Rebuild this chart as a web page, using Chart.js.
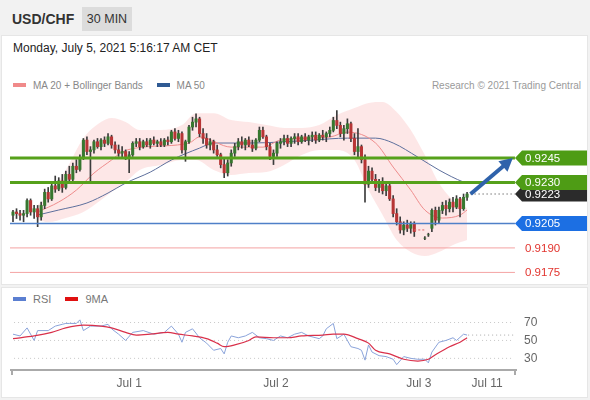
<!DOCTYPE html>
<html>
<head>
<meta charset="utf-8">
<script src="https://cdn.jsdelivr.net/npm/chart.js@4.4.0/dist/chart.umd.min.js"></script>
<style>
  body { margin: 0; width: 590px; height: 400px; background: #f2f2f2; position: relative; overflow: hidden;
         font-family: "Liberation Sans", Arial, sans-serif; }
  .abs { position: absolute; white-space: nowrap; }
  .panel { position: absolute; background: #fff; border: 1px solid #e6e6e6; box-sizing: border-box; }
  .key { display: inline-block; width: 13px; height: 4px; vertical-align: middle; margin-right: 7px; position: relative; top: -1px; }
</style>
</head>
<body>
<div class="panel" style="left:1px; top:35px; width:587px; height:250px;"></div>
<div class="panel" style="left:1px; top:287px; width:587px; height:111px;"></div>

<div class="abs" style="left:12px; top:11px; font-size:14px; font-weight:bold; color:#333;">USD/CHF</div>
<div class="abs" style="left:82px; top:7px; width:50px; height:24px; line-height:24px; background:#dcdcdc; text-align:center; font-size:12.5px; color:#333;">30 MIN</div>
<div class="abs" style="left:13px; top:41px; font-size:12px; color:#222;">Monday, July 5, 2021 5:16:17 AM CET</div>

<div class="abs" style="left:13px; top:80px; font-size:10px; color:#888;">
  <span class="key" style="background:#f08a8a;"></span>MA 20 + Bollinger Bands
  <span class="key" style="background:#2f5a93; margin-left:11px;"></span>MA 50
</div>
<div class="abs" style="right:9px; top:80px; font-size:10px; color:#9a9a9a;">Research © 2021 Trading Central</div>

<div class="abs" style="left:13px; top:293px; font-size:11px; color:#777;">
  <span class="key" style="background:#5b7fd1;"></span>RSI
  <span class="key" style="background:#e01010; margin-left:11px;"></span>9MA
</div>

<canvas id="price" class="abs" width="590" height="190" style="left:0; top:95px;"></canvas>
<canvas id="rsi" class="abs" width="590" height="110" style="left:0; top:287px;"></canvas>

<script>
// USD/CHF 30 min candles, one per slot (null = no trading)
const opens = [0.9210,0.9212,0.9211,0.9210,0.9211,0.9219,0.9212,0.9214,0.9209,0.9216,
  0.9224,0.9220,0.9228,0.9226,0.9231,0.9227,0.9235,0.9232,0.9240,0.9238,
  0.9245,0.9256,0.9249,0.9250,0.9255,0.9252,0.9256,0.9254,0.9258,0.9253,
  0.9250,0.9248,0.9249,0.9245,0.9247,0.9254,0.9255,0.9252,0.9255,0.9253,
  0.9256,0.9254,0.9255,0.9253,0.9256,0.9255,0.9261,0.9257,0.9260,0.9250,
  0.9255,0.9264,0.9267,0.9269,0.9260,0.9257,0.9253,0.9255,0.9250,0.9247,
  0.9241,0.9236,0.9242,0.9248,0.9252,0.9255,0.9253,0.9256,0.9253,0.9251,
  0.9256,0.9262,0.9258,0.9252,0.9246,0.9248,0.9254,0.9255,0.9257,0.9254,
  0.9257,0.9258,0.9255,0.9258,0.9256,0.9258,0.9259,0.9256,0.9259,0.9258,
  0.9260,0.9262,0.9268,0.9265,0.9260,0.9263,0.9266,0.9257,0.9249,0.9252,
  0.9244,0.9229,0.9237,0.9232,0.9227,0.9230,0.9225,0.9228,0.9220,0.9211,
  0.9206,0.9201,0.9204,0.9202,0.9205,null,null,0.9196,0.9198,0.9202,
  0.9213,0.9207,0.9213,0.9216,0.9214,0.9218,0.9215,0.9220,0.9214,0.9221];
const highs = [0.9213,0.9214,0.9213,0.9213,0.9220,0.9220,0.9216,0.9216,0.9218,0.9226,
  0.9227,0.9230,0.9234,0.9233,0.9235,0.9237,0.9240,0.9242,0.9244,0.9247,
  0.9257,0.9258,0.9252,0.9256,0.9257,0.9257,0.9258,0.9260,0.9259,0.9255,
  0.9253,0.9252,0.9250,0.9249,0.9255,0.9257,0.9257,0.9256,0.9257,0.9257,
  0.9258,0.9256,0.9257,0.9257,0.9258,0.9262,0.9263,0.9262,0.9261,0.9256,
  0.9265,0.9270,0.9272,0.9270,0.9263,0.9260,0.9257,0.9256,0.9253,0.9248,
  0.9245,0.9244,0.9250,0.9254,0.9257,0.9258,0.9257,0.9258,0.9256,0.9257,
  0.9264,0.9264,0.9259,0.9254,0.9250,0.9255,0.9257,0.9259,0.9259,0.9258,
  0.9260,0.9260,0.9259,0.9260,0.9259,0.9261,0.9261,0.9260,0.9262,0.9261,
  0.9264,0.9270,0.9274,0.9267,0.9265,0.9269,0.9267,0.9260,0.9263,0.9253,
  0.9247,0.9240,0.9239,0.9235,0.9232,0.9233,0.9230,0.9229,0.9222,0.9214,
  0.9209,0.9206,0.9207,0.9206,0.9206,null,null,0.9197,0.9199,0.9214,
  0.9215,0.9215,0.9218,0.9219,0.9220,0.9221,0.9222,0.9221,0.9223,0.9224];
const lows = [0.9206,0.9208,0.9207,0.9206,0.9209,0.9210,0.9208,0.9203,0.9207,0.9214,
  0.9218,0.9219,0.9224,0.9225,0.9224,0.9226,0.9230,0.9231,0.9236,0.9237,
  0.9244,0.9247,0.9231,0.9248,0.9251,0.9250,0.9252,0.9253,0.9251,0.9248,
  0.9246,0.9245,0.9244,0.9236,0.9246,0.9252,0.9250,0.9251,0.9252,0.9251,
  0.9253,0.9252,0.9252,0.9252,0.9253,0.9254,0.9256,0.9255,0.9248,0.9243,
  0.9254,0.9262,0.9264,0.9258,0.9254,0.9251,0.9250,0.9248,0.9246,0.9239,
  0.9233,0.9234,0.9240,0.9246,0.9250,0.9251,0.9250,0.9252,0.9249,0.9250,
  0.9255,0.9257,0.9250,0.9244,0.9241,0.9246,0.9251,0.9253,0.9252,0.9252,
  0.9254,0.9253,0.9254,0.9255,0.9253,0.9255,0.9254,0.9255,0.9256,0.9255,
  0.9258,0.9261,0.9263,0.9258,0.9256,0.9260,0.9255,0.9247,0.9245,0.9242,
  0.9218,0.9227,0.9230,0.9225,0.9224,0.9223,0.9222,0.9219,0.9209,0.9204,
  0.9199,0.9198,0.9200,0.9199,0.9197,null,null,0.9195,0.9197,0.9200,
  0.9204,0.9205,0.9211,0.9210,0.9212,0.9212,0.9214,0.9209,0.9213,0.9219];
const closes = [0.9212,0.9211,0.9210,0.9211,0.9219,0.9212,0.9214,0.9209,0.9216,0.9224,
  0.9220,0.9228,0.9226,0.9231,0.9227,0.9235,0.9232,0.9240,0.9238,0.9245,
  0.9256,0.9249,0.9250,0.9255,0.9252,0.9256,0.9254,0.9258,0.9253,0.9250,
  0.9248,0.9249,0.9245,0.9247,0.9254,0.9255,0.9252,0.9255,0.9253,0.9256,
  0.9254,0.9255,0.9253,0.9256,0.9255,0.9261,0.9257,0.9260,0.9250,0.9255,
  0.9264,0.9267,0.9269,0.9260,0.9257,0.9253,0.9255,0.9250,0.9247,0.9241,
  0.9236,0.9242,0.9248,0.9252,0.9255,0.9253,0.9256,0.9253,0.9251,0.9256,
  0.9262,0.9258,0.9252,0.9246,0.9248,0.9254,0.9255,0.9257,0.9254,0.9257,
  0.9258,0.9255,0.9258,0.9256,0.9258,0.9259,0.9256,0.9259,0.9258,0.9260,
  0.9262,0.9268,0.9265,0.9260,0.9263,0.9266,0.9257,0.9249,0.9252,0.9244,
  0.9229,0.9237,0.9232,0.9227,0.9230,0.9225,0.9228,0.9220,0.9211,0.9206,
  0.9201,0.9204,0.9202,0.9205,0.9200,null,null,0.9196,0.9198,0.9213,
  0.9207,0.9213,0.9216,0.9214,0.9218,0.9215,0.9220,0.9214,0.9221,0.9223];

// indicators, read at a few candle slots
const ma20Idx = [7,13,18,23,28,31,37,50,53,62,71,76,90,95,103,108,113,117,122,127,129];
const ma20Val = [0.92120,0.92181,0.92254,0.92358,0.92438,0.92487,0.92517,0.92542,0.92579,0.92517,
  0.92517,0.92560,0.92579,0.92609,0.92542,0.92395,0.92254,0.92132,0.92083,0.92101,0.92132];
const ma50Idx = [7,13,21,27,32,39,45,53,57,67,76,85,95,103,108,115,121,128,129];
const ma50Val = [0.92101,0.92132,0.92175,0.92236,0.92297,0.92364,0.92438,0.92511,0.92542,0.92542,
  0.92548,0.92560,0.92572,0.92572,0.92542,0.92456,0.92377,0.92303,0.92297];
const bandIdx = [7,10,15,20,25,28,32,36,42,48,52,57,62,67,72,77,82,87,92,97,101,105,109,113,117,121,125,129];
const bandUpper = [0.92162,0.92224,0.92377,0.92572,0.92670,0.92695,0.92670,0.92621,0.92621,0.92652,
  0.92725,0.92725,0.92683,0.92670,0.92652,0.92634,0.92634,0.92652,0.92713,0.92756,
  0.92787,0.92793,0.92732,0.92621,0.92468,0.92297,0.92193,0.92144];
const bandLower = [0.92071,0.92058,0.92083,0.92120,0.92193,0.92242,0.92303,0.92377,0.92407,0.92438,
  0.92438,0.92377,0.92346,0.92358,0.92364,0.92407,0.92468,0.92499,0.92499,0.92438,
  0.92254,0.92101,0.91948,0.91875,0.91850,0.91875,0.91918,0.91948];

// key levels
const resistances = [0.9245, 0.9230];
const pivot = 0.9205;
const supports = [0.9190, 0.9175];
const lastPrice = 0.9223;
const gapIdx = [114, 117];
const gapPrice = 0.9201;

// RSI panel
const rsiIdx = [0,2,4,6,7,10,12,14,15,16,18,19,20,22,25,27,28,30,32,34,37,40,43,45,47,48,49,51,53,55,
  57,59,60,61,62,64,66,68,70,72,74,76,78,80,82,84,87,88,89,91,92,94,96,98,99,100,101,102,104,106,
  108,109,111,113,115,117,118,119,121,123,125,126,128,129];
const rsiVal = [57,55,64,50,61,61,66,68,69,69,69,73,61,66,66,68,63,57,50,59,61,57,59,66,57,48,59,63,53,47,
  39,41,35,48,55,53,55,59,53,52,50,55,53,57,59,55,52,55,63,69,52,57,43,41,39,28,45,37,33,32,
  29,23,32,30,29,29,25,37,48,50,53,50,57,56];
const ma9Idx = [0,6,11,15,20,25,28,32,35,39,44,47,51,55,58,60,63,67,69,74,78,82,88,91,94,98,101,103,107,111,115,118,120,124,127,129];
const ma9Val = [52,55,59,64,67,66,64,59,56,57,59,57,55,52,47,43,45,50,54,53,53,55,56,57,57,52,47,39,35,29,27,29,34,43,48,53];
const rsiLevels = [30, 50, 70];
const rsiLast = 56;
const tickPos = [33, 74.7, 115.3, 134.7];
const tickLabels = ["Jul 1", "Jul 2", "Jul 3", "Jul 11"];

const FONT = "Liberation Sans";
const UP = "#37772f", DOWN = "#b73535", WICK = "#3c3c3c";
const GREEN = "#56a11b", BLUE = "#4f80c8", PINK = "#f4a3a3";

const pts = (xs, ys) => xs.map((x, k) => ({ x, y: ys[k] }));
const hline = (from, to, v) => [{ x: from, y: v }, { x: to, y: v }];

// build candle pieces
const wickData = [], bodyData = [], bodyColors = [];
closes.forEach((c, i) => {
  if (c === null) return;
  wickData.push({ x: i, y: [lows[i], highs[i]] });
  bodyData.push({ x: i, y: [opens[i], c] });
  bodyColors.push(c >= opens[i] ? UP : DOWN);
});

// level tags and trend arrow, placed with the chart scales
const tags = {
  id: "tags",
  afterDatasetsDraw(chart) {
    const { ctx, scales: { x, y } } = chart;
    ctx.save();
    // arrow
    const x0 = x.getPixelForValue(130), y0 = y.getPixelForValue(lastPrice);
    const x1 = x.getPixelForValue(142), y1 = y.getPixelForValue(resistances[0]);
    const ang = Math.atan2(y1 - y0, x1 - x0);
    ctx.strokeStyle = ctx.fillStyle = "#2f62ab";
    ctx.lineWidth = 4;
    ctx.beginPath();
    ctx.moveTo(x0, y0);
    ctx.lineTo(x1 - 10 * Math.cos(ang), y1 - 10 * Math.sin(ang));
    ctx.stroke();
    ctx.beginPath();
    ctx.moveTo(x1, y1);
    ctx.lineTo(x1 - 13 * Math.cos(ang) + 7 * Math.sin(ang), y1 - 13 * Math.sin(ang) - 7 * Math.cos(ang));
    ctx.lineTo(x1 - 13 * Math.cos(ang) - 7 * Math.sin(ang), y1 - 13 * Math.sin(ang) + 7 * Math.cos(ang));
    ctx.closePath();
    ctx.fill();

    ctx.font = "11.5px " + FONT;
    ctx.textBaseline = "middle";
    const box = (v, fill) => {
      const p = y.getPixelForValue(v);
      ctx.fillStyle = fill;
      ctx.beginPath();
      ctx.moveTo(515, p);
      ctx.lineTo(522, p - 7.5);
      ctx.lineTo(587, p - 7.5);
      ctx.lineTo(587, p + 7.5);
      ctx.lineTo(522, p + 7.5);
      ctx.closePath();
      ctx.fill();
      ctx.fillStyle = "#fff";
      ctx.fillText(v.toFixed(4), 525, p + 0.5);
    };
    box(lastPrice, "#2b2b2b");
    resistances.forEach(v => box(v, "#4e9c15"));
    box(pivot, "#1c6fe3");
    ctx.fillStyle = "#e2342e";
    supports.forEach(v => ctx.fillText(v.toFixed(4), 525, y.getPixelForValue(v) + 0.5));
    ctx.restore();
  }
};

const lineBase = { type: "line", pointRadius: 0, fill: false };

new Chart(document.getElementById("price"), {
  type: "bar",
  data: {
    datasets: [
      { ...lineBase, data: pts(bandIdx, bandUpper), borderWidth: 0, borderColor: "rgba(0,0,0,0)",
        cubicInterpolationMode: "monotone", order: 9 },
      { ...lineBase, data: pts(bandIdx, bandLower), borderWidth: 0, borderColor: "rgba(0,0,0,0)",
        fill: "-1", backgroundColor: "rgba(245,155,155,0.24)", cubicInterpolationMode: "monotone", order: 9 },
      { ...lineBase, data: pts(ma20Idx, ma20Val), borderColor: "#ee8c8c", borderWidth: 1,
        cubicInterpolationMode: "monotone", order: 7 },
      { ...lineBase, data: pts(ma50Idx, ma50Val), borderColor: "#5d6f9c", borderWidth: 1,
        cubicInterpolationMode: "monotone", order: 7 },
      { data: wickData, backgroundColor: WICK, barThickness: 1, grouped: false, order: 5 },
      { data: bodyData, backgroundColor: bodyColors, barThickness: 2.4, grouped: false, order: 4 },
      ...resistances.map(v => ({ ...lineBase, data: hline(-0.85, 142.6, v), borderColor: GREEN, borderWidth: 3, order: 3 })),
      { ...lineBase, data: hline(-0.85, 142.6, pivot), borderColor: BLUE, borderWidth: 1.5, order: 3 },
      ...supports.map(v => ({ ...lineBase, data: hline(-0.85, 142.6, v), borderColor: PINK, borderWidth: 1, order: 3 })),
      { ...lineBase, data: hline(130, 142.6, lastPrice), borderColor: "#333", borderWidth: 1, borderDash: [1, 3], order: 3 },
      { ...lineBase, data: hline(gapIdx[0], gapIdx[1], gapPrice), borderColor: "#d66", borderWidth: 1, borderDash: [2, 2], order: 3 }
    ]
  },
  options: {
    animation: false,
    responsive: false,
    layout: { padding: 0 },
    scales: {
      x: { type: "linear", min: -13 / 3.52, max: 577 / 3.52, offset: false, display: false },
      y: { min: 0.91673, max: 0.92836, display: false }
    },
    plugins: { legend: { display: false }, tooltip: { enabled: false } }
  },
  plugins: [tags]
});

// little end marks of the RSI time axis
const axisEnds = {
  id: "axisEnds",
  afterDraw(chart) {
    const { ctx, chartArea: a } = chart;
    ctx.save();
    ctx.strokeStyle = "#aaa";
    ctx.lineWidth = 2;
    ctx.beginPath();
    ctx.moveTo(a.left + 1, a.bottom); ctx.lineTo(a.left + 1, a.bottom + 5);
    ctx.moveTo(a.right - 1, a.bottom); ctx.lineTo(a.right - 1, a.bottom + 5);
    ctx.stroke();
    ctx.restore();
  }
};

new Chart(document.getElementById("rsi"), {
  type: "line",
  data: {
    datasets: [
      ...rsiLevels.map(v => ({ data: hline(0.3, 142.2, v), borderColor: "#c8c8c8", borderWidth: 1,
        borderDash: [1, 3], pointRadius: 0, order: 5 })),
      { data: hline(129.3, 142.2, rsiLast), borderColor: "#aaa", borderWidth: 1, borderDash: [1, 3], pointRadius: 0, order: 5 },
      { data: pts(ma9Idx, ma9Val), borderColor: "#d9304a", borderWidth: 1.2, pointRadius: 0,
        cubicInterpolationMode: "monotone", order: 2 },
      { data: pts(rsiIdx, rsiVal), borderColor: "#8aa3da", borderWidth: 1, pointRadius: 0, order: 3 }
    ]
  },
  options: {
    animation: false,
    responsive: false,
    layout: { padding: { left: 11, top: 13, right: 0, bottom: 0 } },
    scales: {
      x: {
        type: "linear", min: -2 / 3.52, max: 503 / 3.52,
        afterBuildTicks: s => { s.ticks = tickPos.map(v => ({ value: v })); },
        afterFit: s => { s.height = 27; },
        ticks: { callback: (v, i) => tickLabels[i], color: "#666", font: { size: 12, family: FONT },
                 padding: 6, maxRotation: 0, autoSkip: false },
        grid: { display: false, drawTicks: false },
        border: { display: true, color: "#aaa", width: 2 }
      },
      y: {
        position: "right", min: 17, max: 92.7,
        afterBuildTicks: s => { s.ticks = rsiLevels.map(v => ({ value: v })); },
        afterFit: s => { s.width = 74; },
        ticks: { color: "#666", font: { size: 12, family: FONT }, padding: 8 },
        grid: { display: false, drawTicks: false },
        border: { display: false }
      }
    },
    plugins: { legend: { display: false }, tooltip: { enabled: false } }
  },
  plugins: [axisEnds]
});
</script>
</body>
</html>
